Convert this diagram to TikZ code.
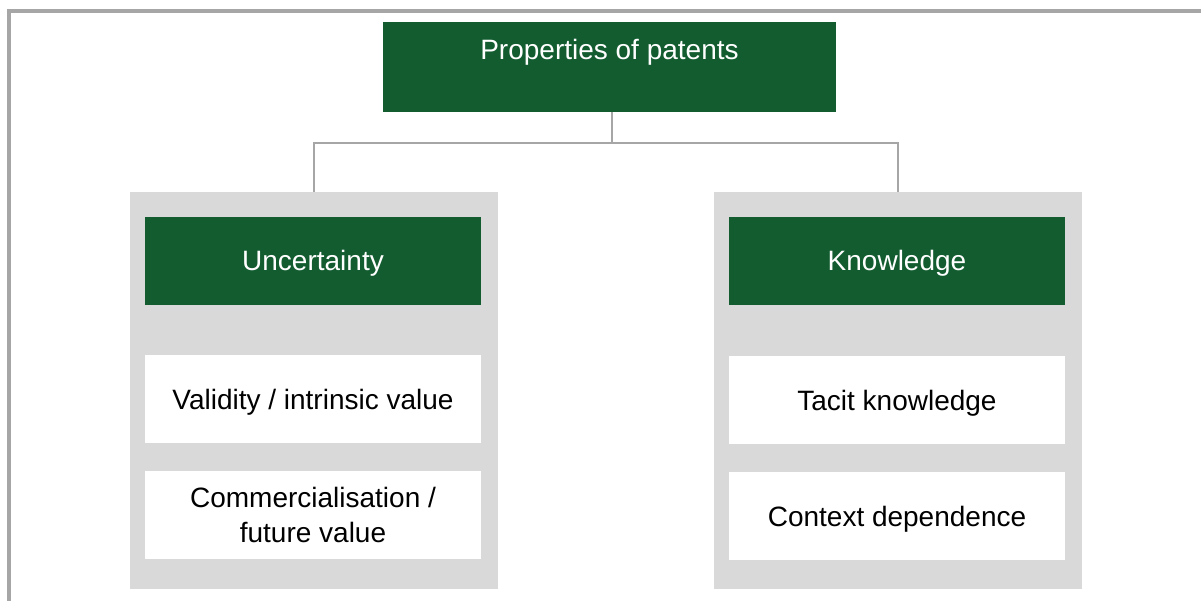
\documentclass[tikz,border=0pt]{standalone}
\usepackage{fontspec}
\setmainfont{Liberation Sans}
\definecolor{pgreen}{HTML}{125C30}
\definecolor{pgray}{HTML}{D9D9D9}
\definecolor{pline}{HTML}{A6A6A6}
\begin{document}
\begin{tikzpicture}[x=1pt,y=-1pt,
  every node/.style={inner sep=0pt, outer sep=0pt, font=\fontsize{28}{34.7}\selectfont, align=center},
  capfit/.style={text height=20pt, text depth=0pt},
  greenbox/.style={fill=pgreen, text=white, minimum width=336pt, minimum height=88pt, capfit},
  whitebox/.style={fill=white, text=black, minimum width=336pt, minimum height=88pt},
  graybox/.style={fill=pgray, minimum width=368pt, minimum height=397pt},
  conn/.style={draw=pline, line width=2pt}]
\useasboundingbox (0,0) rectangle (1201,601);
\fill[white] (0,0) rectangle (1201,601);
% frame
\draw[pline, line width=4pt] (9,603) -- (9,11) -- (1203,11);
% top box
\node[fill=pgreen, text=white, anchor=north, minimum width=453pt, text height=38pt, text depth=52pt] (top) at (609.5,22) {Properties of patents};
% gray panels
\node[graybox, anchor=north] (lpanel) at (314,192) {};
\node[graybox, anchor=north] (rpanel) at (898,192) {};
% left column
\node[greenbox] (unc) at (313,261) {Uncertainty};
\node[whitebox, capfit] (val) at (313,399) {Validity / intrinsic value};
\node[whitebox] (com) at (313,515) {Commercialisation /\\future value};
% right column
\node[greenbox] (know) at (897,261) {Knowledge};
\node[whitebox, capfit] (tac) at (897,400) {Tacit knowledge};
\node[whitebox, capfit] (ctx) at (897,516) {Context dependence};
% connectors
\coordinate (hub) at (612,143);
\draw[conn] (612,112) -- (hub);
\draw[conn] (hub) -| (lpanel.north);
\draw[conn] (hub) -| (rpanel.north);
\end{tikzpicture}
\end{document}
